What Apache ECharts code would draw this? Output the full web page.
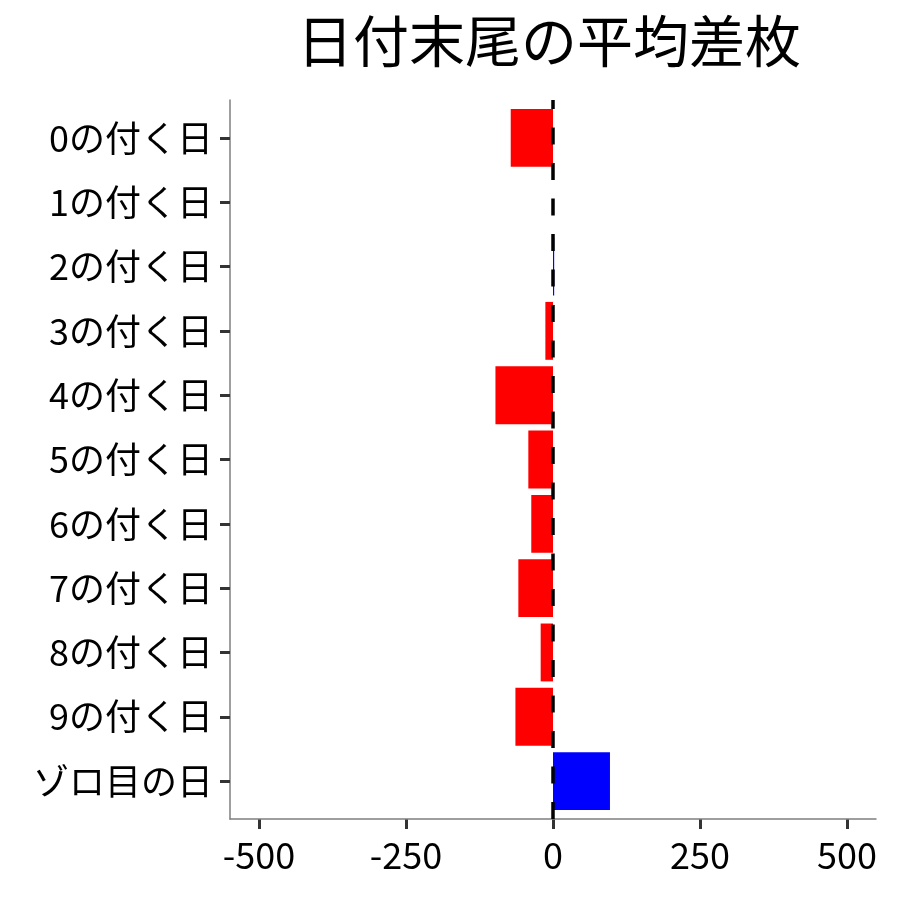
<!DOCTYPE html>
<html>
<head>
<meta charset="utf-8">
<script src="https://cdn.jsdelivr.net/npm/echarts@6/dist/echarts.min.js"></script>
<style>html,body{margin:0;padding:0;background:#fff;}#c{width:900px;height:900px;}</style>
</head>
<body>
<div id="c"></div>
<script>
const title = '日付末尾の平均差枚';
const categories = ['0の付く日','1の付く日','2の付く日','3の付く日','4の付く日','5の付く日','6の付く日','7の付く日','8の付く日','9の付く日','ゾロ目の日'];
const values = [-72, 0, 2, -13, -98, -42, -37, -59, -21, -64, 97];
const xMin = -500, xMax = 500, xStep = 250;
const refLine = 0;
const posColor = '#0000FF';
const negColor = '#FF0000';

const font = '"Noto Sans CJK JP", "Noto Sans", sans-serif';
const hidden = {show: false};
const chart = echarts.init(document.getElementById('c'), null, {renderer: 'canvas'});
chart.setOption({
  animation: false,
  backgroundColor: '#ffffff',
  title: {
    text: title,
    left: 544, top: 8, textAlign: 'center',
    textStyle: {fontFamily: font, fontSize: 56, fontWeight: 'normal', color: '#000'}
  },
  grid: [
    // bars + category labels (ggplot-style 0.6 band padding emulated)
    {left: 230, right: 24, top: 105.75, bottom: 86.75},
    // x labels (-500..500)
    {left: 259, right: 53, top: 100, bottom: 81},
    // panel axis lines
    {left: 230, right: 24, top: 100, bottom: 81},
    // x tick marks strip (drawn as split lines)
    {left: 259, right: 53, top: 819, bottom: 71}
  ],
  xAxis: [
    {gridIndex: 0, type: 'value', min: -550, max: 550, show: false},
    {gridIndex: 1, type: 'value', min: xMin, max: xMax, interval: xStep,
      axisLine: {show: false, onZero: false},
      axisTick: hidden,
      axisLabel: {fontFamily: font, fontSize: 36, color: '#000', margin: 18},
      splitLine: hidden},
    {gridIndex: 2, type: 'value', min: -550, max: 550,
      axisLine: {show: true, onZero: false, lineStyle: {color: '#7f7f7f', width: 1.5}},
      axisTick: hidden, axisLabel: hidden, splitLine: hidden},
    {gridIndex: 3, type: 'value', min: xMin, max: xMax, interval: xStep,
      axisLine: {show: false, onZero: false}, axisTick: hidden, axisLabel: hidden,
      splitLine: {show: true, lineStyle: {color: '#333', width: 3}}}
  ],
  yAxis: [
    {gridIndex: 0, type: 'category', data: categories, inverse: true,
      axisLine: {show: false, onZero: false},
      axisTick: {show: true, alignWithLabel: true, length: 10, lineStyle: {color: '#333', width: 3}},
      axisLabel: {fontFamily: font, fontSize: 36, color: '#000', margin: 17},
      splitLine: hidden},
    {gridIndex: 1, type: 'value', show: false},
    {gridIndex: 2, type: 'value', min: 0, max: 1,
      axisLine: {show: true, onZero: false, lineStyle: {color: '#7f7f7f', width: 1.5}},
      axisTick: hidden, axisLabel: hidden, splitLine: hidden},
    {gridIndex: 3, type: 'value', show: false}
  ],
  series: [{
    type: 'bar',
    xAxisIndex: 0, yAxisIndex: 0,
    data: values,
    barCategoryGap: '10%',
    itemStyle: {color: p => p.value > 0 ? posColor : negColor}
  }, {
    type: 'line',
    xAxisIndex: 2, yAxisIndex: 2,
    data: [],
    markLine: {
      silent: true, symbol: 'none',
      label: {show: false},
      lineStyle: {color: '#000', type: [17, 18.5], width: 3.5},
      data: [[{coord: [refLine, 0]}, {coord: [refLine, 1]}]]
    }
  }]
});
</script>
</body>
</html>
